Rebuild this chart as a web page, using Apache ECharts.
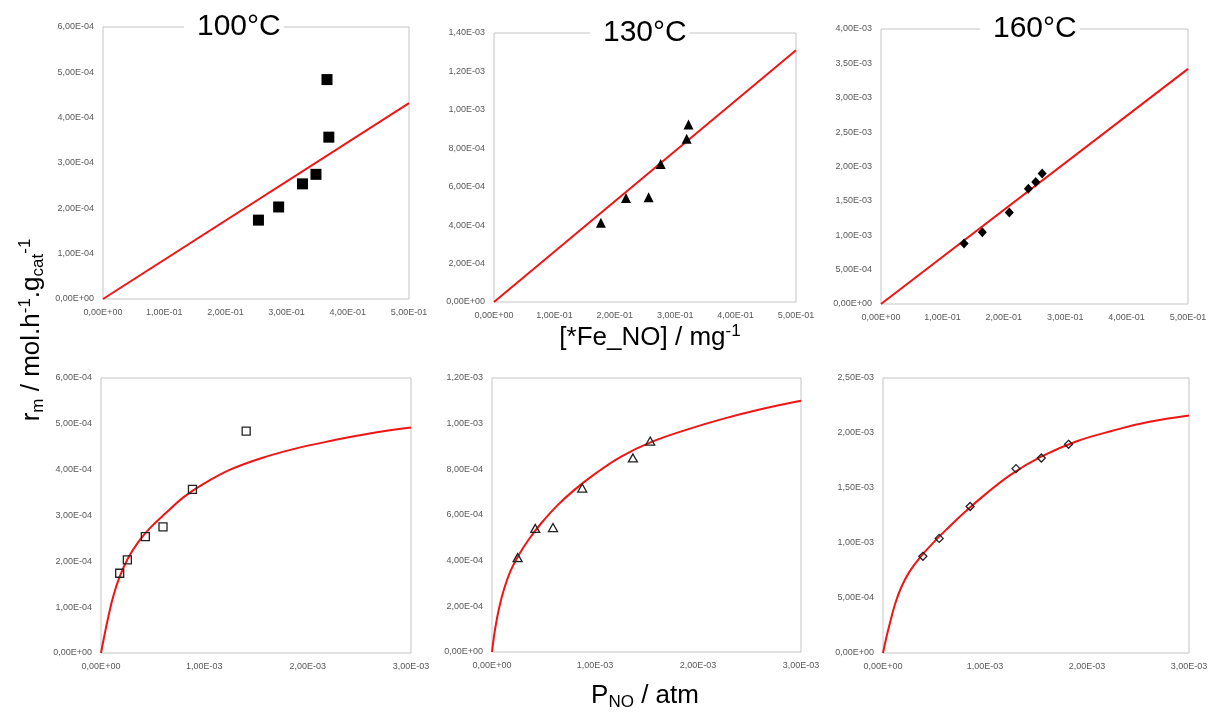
<!DOCTYPE html>
<html>
<head>
<meta charset="utf-8">
<script src="https://cdn.jsdelivr.net/npm/echarts@6/dist/echarts.min.js"></script>
<style>
  html, body { margin: 0; padding: 0; background: #fff; }
  #chart { width: 1215px; height: 713px; }
</style>
</head>
<body>
<div id="chart"></div>
<script>
// measured points (same samples shown against [*Fe_NO] and against P_NO)
const feNO100 = [0.254, 0.287, 0.326, 0.348, 0.366, 0.369];
const pNO100 = [0.181e-3, 0.255e-3, 0.429e-3, 0.600e-3, 1.405e-3, 0.885e-3];
const rate100 = [1.74e-4, 2.03e-4, 2.54e-4, 2.75e-4, 4.84e-4, 3.57e-4];

const feNO130 = [0.177, 0.2185, 0.256, 0.276, 0.319, 0.322];
const pNO130 = [0.249e-3, 0.420e-3, 0.592e-3, 0.876e-3, 1.368e-3, 1.536e-3];
const rate130 = [4.13e-4, 5.41e-4, 5.45e-4, 7.18e-4, 8.50e-4, 9.24e-4];

const feNO160 = [0.1353, 0.165, 0.209, 0.240, 0.252, 0.2625];
const pNO160 = [0.391e-3, 0.551e-3, 0.854e-3, 1.304e-3, 1.552e-3, 1.819e-3];
const rate160 = [0.879e-3, 1.042e-3, 1.332e-3, 1.676e-3, 1.773e-3, 1.897e-3];

// fitted lines (top row), read at both ends
const lineX = [0, 0.5];
const line100 = [0, 4.32e-4];
const line130 = [0, 1.31e-3];
const line160 = [0, 3.42e-3];

// fitted curves (bottom row) at these pressures (1e-3 atm)
const curveP = [0, 0.03, 0.07, 0.12, 0.18, 0.26, 0.36, 0.48, 0.63, 0.8, 1.0, 1.25, 1.55, 1.9, 2.25, 2.6, 3.0];
const curve100 = [0, 0.35, 0.78, 1.25, 1.66, 2.06, 2.42, 2.74, 3.06, 3.40, 3.70, 4.0, 4.25, 4.47, 4.64, 4.79, 4.92]; // 1e-4
const curve130 = [0, 1.0, 1.95, 2.8, 3.55, 4.25, 4.95, 5.65, 6.4, 7.1, 7.8, 8.55, 9.2, 9.75, 10.22, 10.62, 11.0]; // 1e-4
const curve160 = [0, 0.13, 0.28, 0.45, 0.6, 0.74, 0.865, 0.99, 1.13, 1.28, 1.44, 1.62, 1.785, 1.925, 2.02, 2.1, 2.16]; // 1e-3

const titles = ['100°C', '130°C', '160°C'];

const zip = (xs, ys) => xs.map((x, i) => [x, ys[i]]);
const zipScaled = (xs, xk, ys, yk) => xs.map((x, i) => [x * xk, ys[i] * yk]);

function sci(v) {
  const s = Number(v).toExponential(2).split('e');
  let e = parseInt(s[1], 10);
  const sign = e < 0 ? '-' : '+';
  e = Math.abs(e);
  return s[0].replace('.', ',') + 'E' + sign + (e < 10 ? '0' + e : e);
}

const font = '"Liberation Sans", Arial, sans-serif';
const grids = [
  { left: 103, top: 27, width: 306, height: 272 },
  { left: 494, top: 33, width: 302, height: 269 },
  { left: 881, top: 29, width: 307, height: 275 },
  { left: 101, top: 378, width: 310, height: 275 },
  { left: 492, top: 378, width: 309, height: 274 },
  { left: 883, top: 378, width: 306, height: 275 }
];
const xRange = [[0.5, 0.1], [0.5, 0.1], [0.5, 0.1], [3e-3, 1e-3], [3e-3, 1e-3], [3e-3, 1e-3]];
const yRange = [[6e-4, 1e-4], [1.4e-3, 2e-4], [4e-3, 5e-4], [6e-4, 1e-4], [1.2e-3, 2e-4], [2.5e-3, 5e-4]];

function axis(i, range) {
  return {
    gridIndex: i,
    type: 'value',
    min: 0,
    max: range[0],
    interval: range[1],
    splitLine: { show: false },
    axisLine: { show: false },
    axisTick: { show: false },
    axisLabel: {
      formatter: sci,
      color: '#595959',
      fontSize: 9,
      fontFamily: font,
      margin: 9
    }
  };
}

const scatterData = [
  zip(feNO100, rate100), zip(feNO130, rate130), zip(feNO160, rate160),
  zip(pNO100, rate100), zip(pNO130, rate130), zip(pNO160, rate160)
];
const fitData = [
  zip(lineX, line100), zip(lineX, line130), zip(lineX, line160),
  zipScaled(curveP, 1e-3, curve100, 1e-4),
  zipScaled(curveP, 1e-3, curve130, 1e-4),
  zipScaled(curveP, 1e-3, curve160, 1e-3)
];
const symbols = ['rect', 'triangle', 'diamond', 'rect', 'triangle', 'diamond'];
const sizes = [11, 10, [9, 10], 8, [9, 8], [8, 8]];

const series = [];
for (let i = 0; i < 6; i++) {
  const filled = i < 3;
  series.push({
    type: 'line',
    xAxisIndex: i,
    yAxisIndex: i,
    data: fitData[i],
    showSymbol: false,
    smooth: i < 3 ? false : 0.4,
    lineStyle: { color: '#f01414', width: 2 },
    z: 2
  });
  series.push({
    type: 'scatter',
    xAxisIndex: i,
    yAxisIndex: i,
    data: scatterData[i],
    symbol: symbols[i],
    symbolSize: sizes[i],
    itemStyle: filled
      ? { color: '#000', opacity: 1 }
      : { color: 'rgba(255,255,255,0)', borderColor: '#222', borderWidth: 1.3, opacity: 1 },
    z: 3
  });
}

const titleX = [184, 590, 980];
const graphic = titles.map((t, i) => ({
  type: 'text',
  x: titleX[i],
  y: [27, 33, 29][i],
  z: 100,
  style: {
    text: t,
    font: '30px ' + font,
    fill: '#000',
    align: 'left',
    verticalAlign: 'middle',
    backgroundColor: '#fff',
    padding: [2, 3, 2, 13]
  }
}));

const richMain = { fontSize: 26, fontFamily: font, lineHeight: 30, color: '#000' };
const richSup = { fontSize: 17, fontFamily: font, lineHeight: 17, verticalAlign: 'top', color: '#000' };
const richSub = { fontSize: 17, fontFamily: font, lineHeight: 17, verticalAlign: 'bottom', color: '#000' };
const rich = { a: richMain, sup: richSup, sub: richSub };

graphic.push({
  type: 'text',
  x: 32,
  y: 330,
  rotation: Math.PI / 2,
  z: 100,
  style: {
    text: '{a|r}{sub|m}{a| / mol.h}{sup|-1}{a|.g}{sub|cat}{sup|-1}',
    rich: rich,
    align: 'center',
    verticalAlign: 'middle'
  }
});
graphic.push({
  type: 'text',
  x: 650,
  y: 338,
  z: 100,
  style: {
    text: '{a|[*Fe_NO] / mg}{sup|-1}',
    rich: rich,
    align: 'center',
    verticalAlign: 'middle'
  }
});
graphic.push({
  type: 'text',
  x: 645,
  y: 696,
  z: 100,
  style: {
    text: '{a|P}{sub|NO}{a| / atm}',
    rich: rich,
    align: 'center',
    verticalAlign: 'middle'
  }
});

const chart = echarts.init(document.getElementById('chart'));
chart.setOption({
  backgroundColor: '#fff',
  animation: false,
  grid: grids.map(g => Object.assign({
    show: true,
    borderColor: '#c4c4c4',
    borderWidth: 1,
    backgroundColor: 'transparent',
    containLabel: false,
    outerBoundsMode: 'none'
  }, g)),
  xAxis: xRange.map((r, i) => axis(i, r)),
  yAxis: yRange.map((r, i) => axis(i, r)),
  series: series,
  graphic: graphic
});
</script>
</body>
</html>
